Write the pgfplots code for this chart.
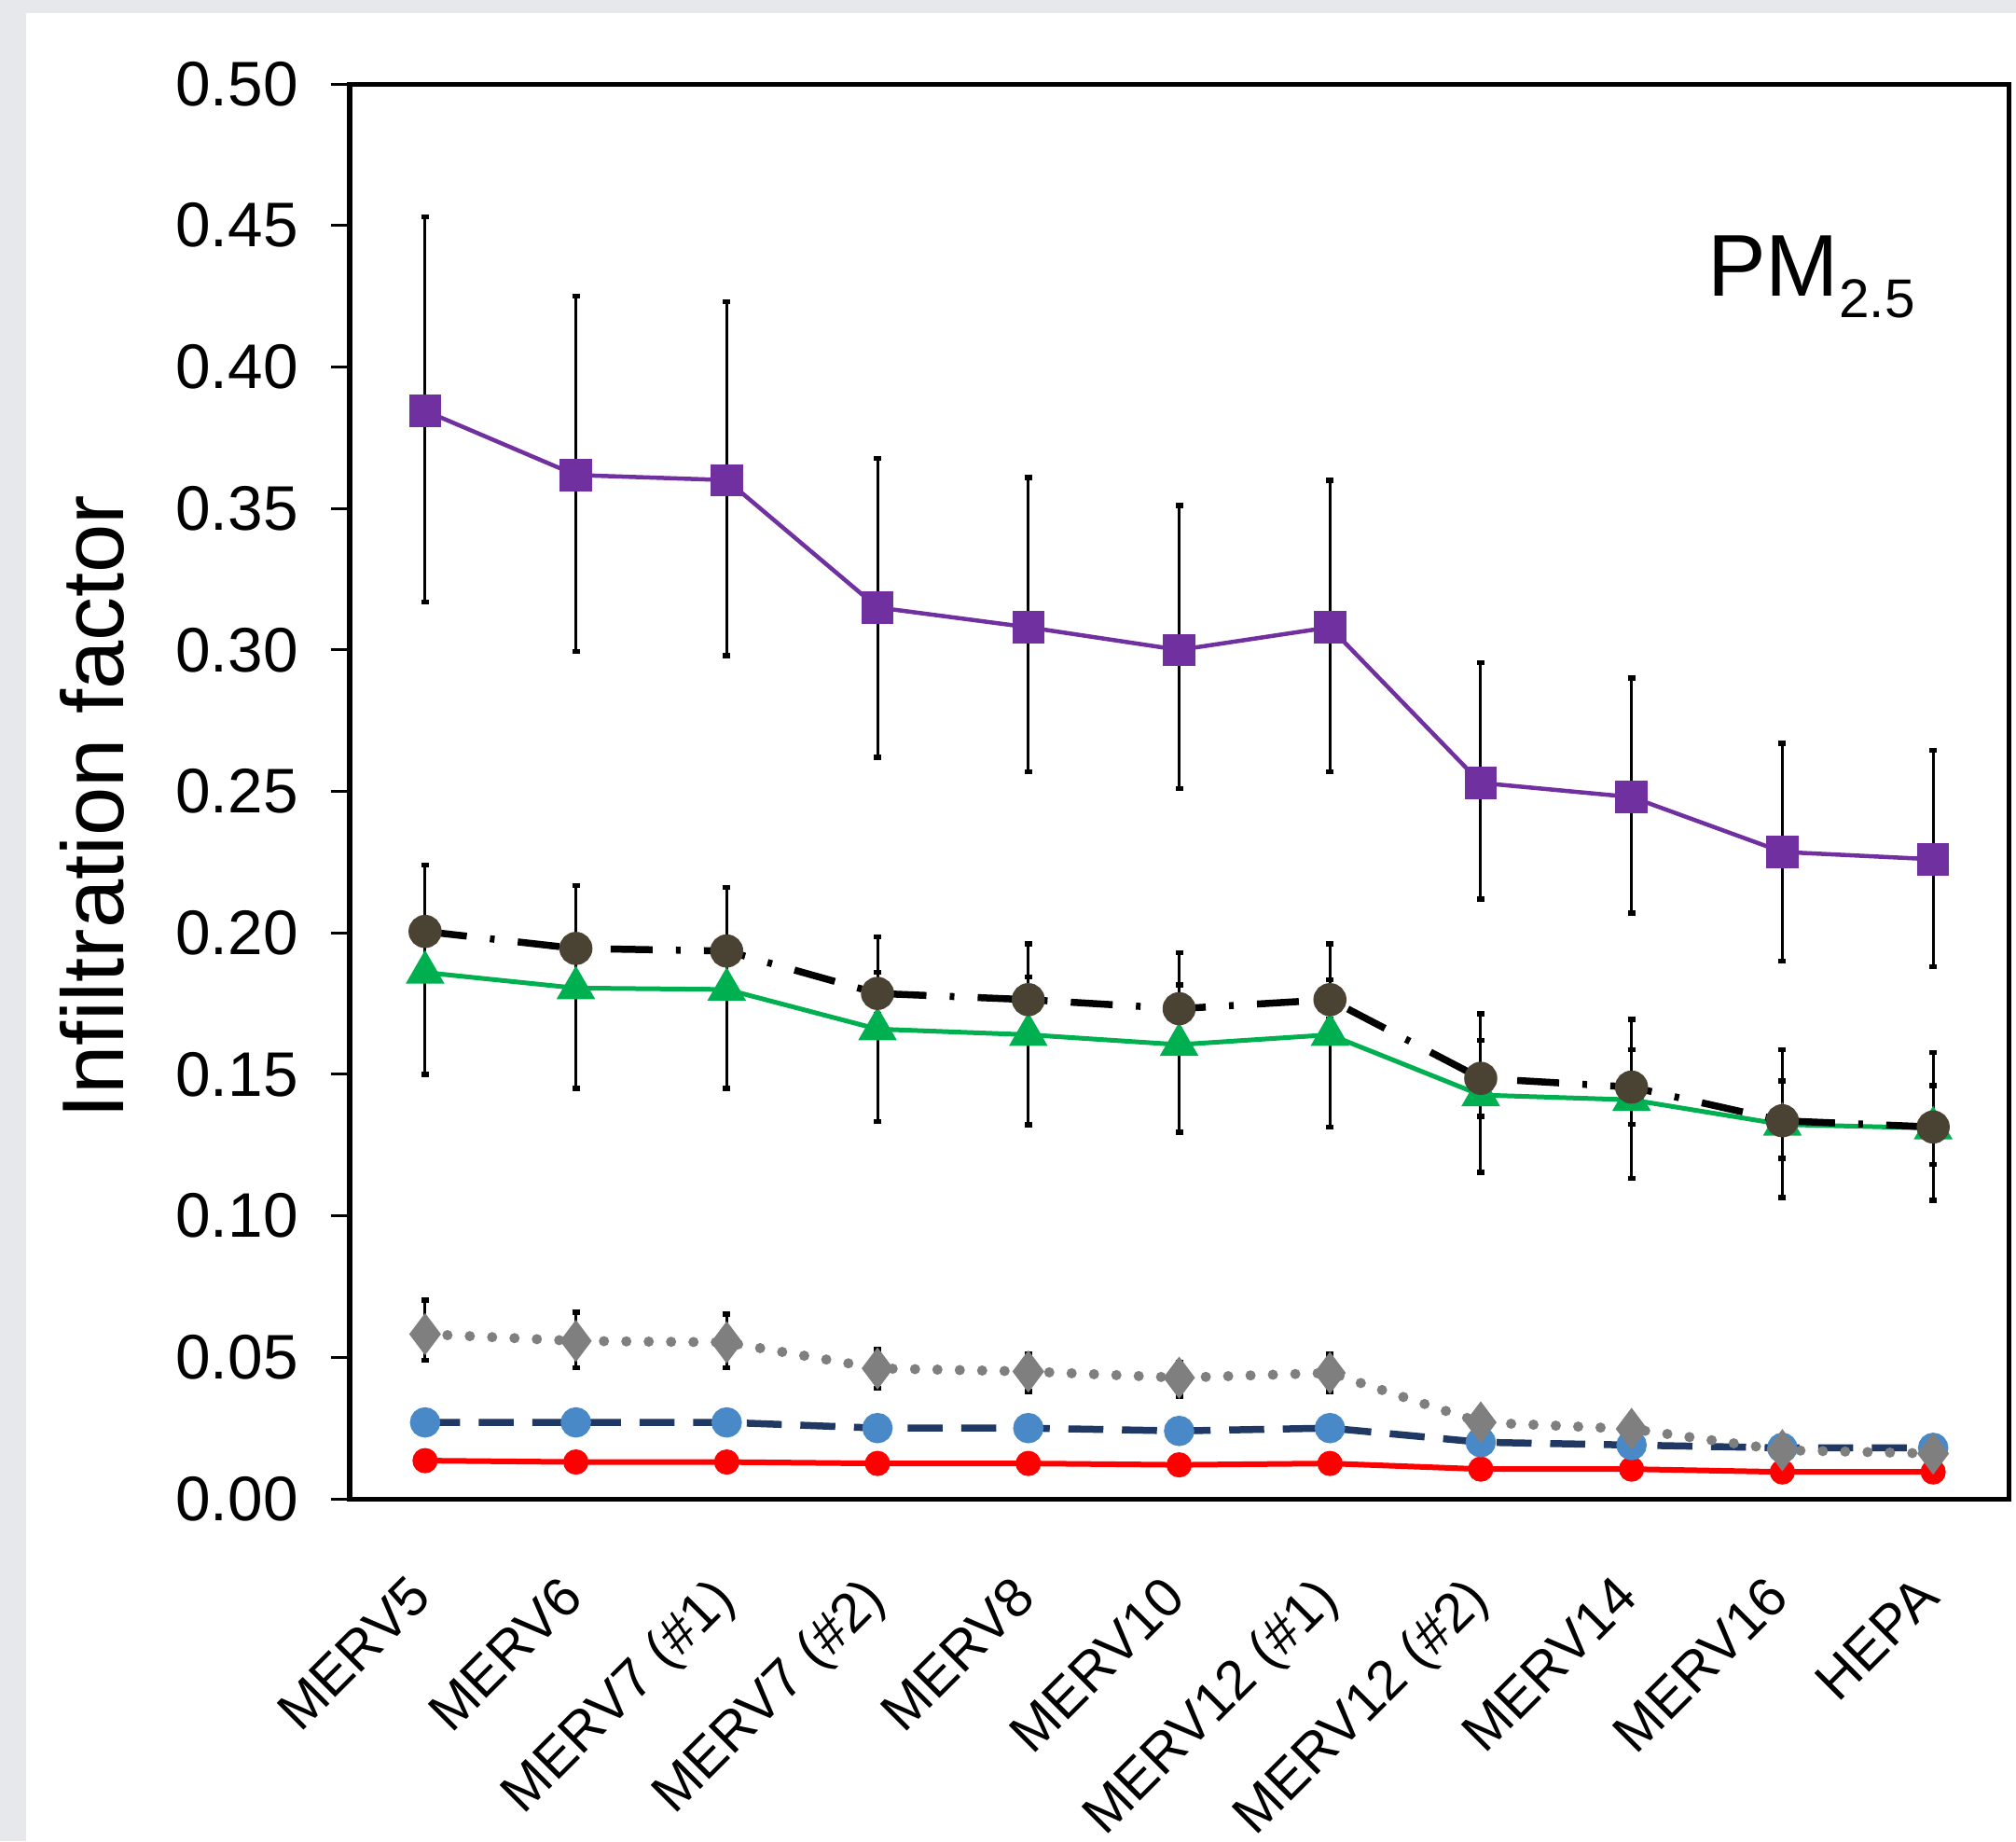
\documentclass[border=0pt]{standalone}
\usepackage{fontspec}
\setmainfont{Liberation Sans}
\usepackage{pgfplots}
\usepackage{pgfplotstable}
\pgfplotsset{compat=1.18}
\definecolor{cpurple}{HTML}{7030A0}
\definecolor{cgreen}{HTML}{00B050}
\definecolor{colive}{HTML}{4A4333}
\definecolor{cgray}{HTML}{7F7F7F}
\definecolor{cblue}{HTML}{4A89C8}
\definecolor{cnavy}{HTML}{1F3864}
\definecolor{cred}{HTML}{FF0000}
\definecolor{frame}{HTML}{E6E8EB}

% x  y  plus  minus
\pgfplotstableread{
x y ep em
0 0.3845 0.0685 0.0675
1 0.3618 0.0632 0.0623
2 0.3600 0.0630 0.0620
3 0.3150 0.0527 0.0530
4 0.3080 0.0530 0.0510
5 0.3000 0.0510 0.0490
6 0.3080 0.0520 0.0510
7 0.2530 0.0425 0.0410
8 0.2480 0.0420 0.0410
9 0.2286 0.0384 0.0386
10 0.2260 0.0385 0.0380
}\purple
\pgfplotstableread{
x y ep em
0 0.1860 0.0380 0.0360
1 0.1805 0.0363 0.0355
2 0.1800 0.0360 0.0350
3 0.1660 0.0326 0.0327
4 0.1640 0.0321 0.0319
5 0.1605 0.0325 0.0309
6 0.1640 0.0321 0.0327
7 0.1427 0.0287 0.0273
8 0.1410 0.0284 0.0277
9 0.1323 0.0264 0.0258
10 0.1310 0.0267 0.0255
}\green
\pgfplotstableread{
x y ep em
0 0.2005 0.0040 0.0040
1 0.1945 0.0040 0.0040
2 0.1936 0.0040 0.0040
3 0.1786 0.0074 0.0074
4 0.1764 0.0081 0.0081
5 0.1732 0.0084 0.0084
6 0.1764 0.0070 0.0070
7 0.1486 0.0134 0.0134
8 0.1455 0.0132 0.0132
9 0.1336 0.0141 0.0133
10 0.1314 0.0147 0.0133
}\olive
\pgfplotstableread{
x y ep em
0 0.0582 0.0121 0.0093
1 0.0558 0.0101 0.0095
2 0.0553 0.0099 0.0090
3 0.0461 0.0066 0.0071
4 0.0450 0.0061 0.0071
5 0.0428 0.0055 0.0066
6 0.0445 0.0066 0.0066
7 0.0270 0.0030 0.0030
8 0.0247 0.0030 0.0030
9 0.0172 0.0020 0.0020
10 0.0160 0.0020 0.0020
}\grayd
\pgfplotstableread{
x y
0 0.0270
1 0.0270
2 0.0270
3 0.0250
4 0.0250
5 0.0240
6 0.0250
7 0.0200
8 0.0190
9 0.0180
10 0.0180
}\blue
\pgfplotstableread{
x y
0 0.0135
1 0.0130
2 0.0130
3 0.0125
4 0.0125
5 0.0120
6 0.0125
7 0.0105
8 0.0105
9 0.0095
10 0.0095
}\red

\begin{document}
\begin{tikzpicture}
\fill[frame] (-75pt,-73.4pt) rectangle (357.4pt,321.4pt);
\fill[white] (-69.4pt,-73.4pt) rectangle (357.4pt,318.6pt);
\begin{axis}[
    scale only axis,
    width=355.8pt, height=303.4pt,
    xmin=-0.5, xmax=10.5,
    ymin=0, ymax=0.5,
    axis line style={line width=1pt},
    xtick={0,...,10},
    xticklabels={MERV5,MERV6,MERV7 (\#1),MERV7 (\#2),MERV8,MERV10,MERV12 (\#1),MERV12 (\#2),MERV14,MERV16,HEPA},
    x tick style={draw=none},
    ytick={0,0.05,0.1,0.15,0.2,0.25,0.3,0.35,0.4,0.45,0.5},
    ytick pos=left,
    y tick style={black, line width=0.6pt},
    tick align=outside,
    major tick length=4pt,
    yticklabel style={/pgf/number format/fixed, /pgf/number format/fixed zerofill, /pgf/number format/precision=2, /tikz/xshift=-3.5pt},
    /pgf/number format/assume math mode=true,
    tick label style={font=\fontsize{13.5}{16}\selectfont},
    xticklabel style={font=\fontsize{11.8}{14}\selectfont, yshift=-7pt, xshift=-3.9pt, rotate=45, anchor=north east},
    ylabel={Infiltration factor},
    ylabel style={at={([xshift=-55.3pt, yshift=-3.3pt]rel axis cs:0,0.5)}, anchor=center, font=\fontsize{18.8}{22}\selectfont},
    error bars/y dir=both,
    error bars/y explicit,
    error bars/error bar style={solid, black, line width=0.6pt},
    error bars/error mark options={rotate=90, black, solid, mark size=0.8pt, line width=1.1pt},
]
\addplot[cred, line width=1.2pt, mark=*, mark size=2.1pt, mark options={solid, fill=cred, draw=cred}]
    table[x=x, y=y] {\red};
\addplot[cnavy, line width=1.5pt, dash pattern=on 7.5pt off 4pt, mark=*, mark size=2.5pt, mark options={solid, fill=cblue, draw=cblue}]
    table[x=x, y=y] {\blue};
\addplot[cgray, line width=2.2pt, line cap=round, dash pattern=on 0pt off 4.8pt, mark=diamond*, mark size=4.2pt, mark options={solid, fill=cgray, draw=cgray, line width=0.4pt}]
    table[x=x, y=y, y error plus=ep, y error minus=em] {\grayd};
\addplot[cgreen, line width=1pt, mark=triangle*, mark size=3.8pt, mark options={solid, fill=cgreen, draw=cgreen}]
    table[x=x, y=y, y error plus=ep, y error minus=em] {\green};
\addplot[black, line width=1.5pt, dash pattern=on 9pt off 5pt on 1pt off 5pt, mark=*, mark size=2.8pt, mark options={solid, fill=colive, draw=colive}]
    table[x=x, y=y, y error plus=ep, y error minus=em] {\olive};
\addplot[cpurple, line width=0.9pt, mark=square*, mark size=3pt, mark options={solid, fill=cpurple, draw=cpurple}]
    table[x=x, y=y, y error plus=ep, y error minus=em] {\purple};
\node[anchor=base west, inner sep=0pt, font=\fontsize{18.8}{22}\selectfont] at (rel axis cs:0.818,0.850) {PM\raisebox{-4.6pt}{\fontsize{11.7}{14}\selectfont 2.5}};
\end{axis}
\pgfresetboundingbox
\path[use as bounding box] (-75pt,-73.4pt) rectangle (357.4pt,321.4pt);
\end{tikzpicture}
\end{document}
